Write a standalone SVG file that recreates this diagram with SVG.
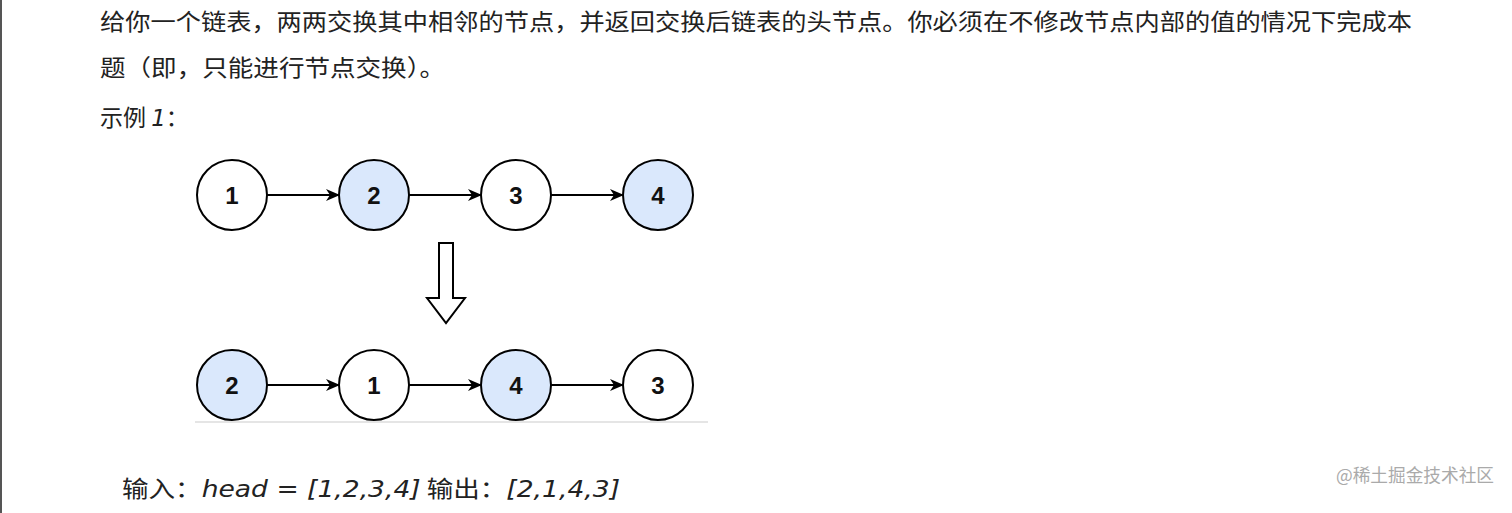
<svg xmlns="http://www.w3.org/2000/svg" width="1512" height="513" viewBox="0 0 1512 513">
<style>
.t{font-family:"Noto Sans CJK SC","Liberation Serif",serif;font-size:23px;fill:#222}
.n circle{stroke:#000;stroke-width:2}
.n text{font-family:"Liberation Sans",Arial,sans-serif;font-weight:bold;font-size:24px;text-anchor:middle;fill:#111}
.w{fill:#fff}.b{fill:#dae8fc}
.hw{font-family:"Comic Sans MS","DejaVu Sans",sans-serif;font-style:italic}
</style>
<defs><marker id="a" markerWidth="14" markerHeight="12" refX="13" refY="6" orient="auto" markerUnits="userSpaceOnUse"><path d="M0,0 L14,6 L0,12 L4,6 Z" fill="#000"/></marker></defs>
<rect width="1512" height="513" fill="#fff"/>
<line x1="1" y1="0" x2="1" y2="513" stroke="#555" stroke-width="2"/>
<text class="t" x="100" y="30" textLength="1312" lengthAdjust="spacingAndGlyphs">给你一个链表，两两交换其中相邻的节点，并返回交换后链表的头节点。你必须在不修改节点内部的值的情况下完成本</text>
<text class="t" x="100" y="76" textLength="345" lengthAdjust="spacingAndGlyphs">题（即，只能进行节点交换）。</text>
<text class="t" x="100" y="126">示例 <tspan class="hw">1</tspan>：</text>
<g id="n1" class="n"><circle class="w" cx="232" cy="195" r="35"/><text x="232" y="204">1</text></g>
<g id="n2" class="n"><circle class="b" cx="374" cy="195" r="35"/><text x="374" y="204">2</text></g>
<g id="n3" class="n"><circle class="w" cx="516" cy="195" r="35"/><text x="516" y="204">3</text></g>
<g id="n4" class="n"><circle class="b" cx="658" cy="195" r="35"/><text x="658" y="204">4</text></g>
<g id="m2" class="n"><circle class="b" cx="232" cy="385" r="35"/><text x="232" y="394">2</text></g>
<g id="m1" class="n"><circle class="w" cx="374" cy="385" r="35"/><text x="374" y="394">1</text></g>
<g id="m4" class="n"><circle class="b" cx="516" cy="385" r="35"/><text x="516" y="394">4</text></g>
<g id="m3" class="n"><circle class="w" cx="658" cy="385" r="35"/><text x="658" y="394">3</text></g>
<g id="connectors" stroke="#000" stroke-width="2" marker-end="url(#a)">
<line x1="267" y1="195" x2="339" y2="195"/><line x1="409" y1="195" x2="481" y2="195"/><line x1="551" y1="195" x2="623" y2="195"/>
<line x1="267" y1="385" x2="339" y2="385"/><line x1="409" y1="385" x2="481" y2="385"/><line x1="551" y1="385" x2="623" y2="385"/>
</g>
<path id="down" d="M439,243 H453 V298 H465 L446,323 L427,298 H439 Z" fill="#fff" stroke="#000" stroke-width="2"/>
<line x1="195" y1="422" x2="708" y2="422" stroke="#ddd" stroke-width="1.5"/>
<text class="t" x="122" y="497" textLength="498" lengthAdjust="spacingAndGlyphs">输入：<tspan class="hw">head = [1,2,3,4]</tspan> 输出：<tspan class="hw">[2,1,4,3]</tspan></text>
<text x="1336" y="482" font-family="'Noto Sans CJK SC',sans-serif" font-size="18" fill="#aaa" textLength="158" lengthAdjust="spacingAndGlyphs">@稀土掘金技术社区</text>
</svg>
